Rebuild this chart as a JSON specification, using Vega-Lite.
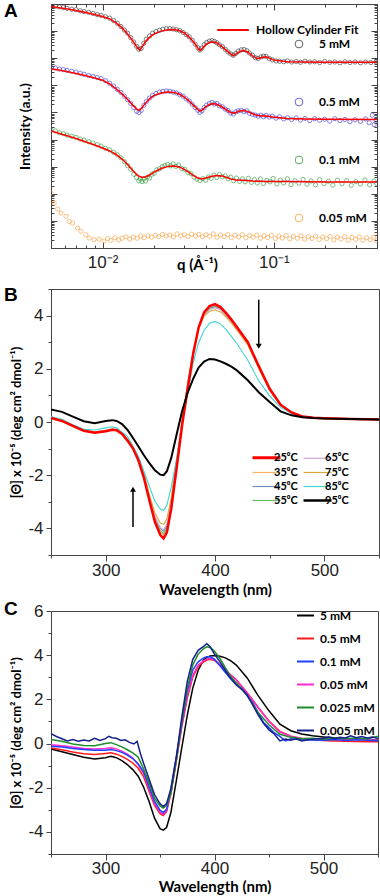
{
"$schema":"https://vega.github.io/schema/vega-lite/v6.json",
"padding":{"left":3,"top":1,"right":2,"bottom":2},
"bounds":"flush",
"spacing":41,
"resolve":{"scale":{"color":"independent","stroke":"independent","shape":"independent"},"legend":{"color":"independent","stroke":"independent"}},
"config":{
 "view":{"stroke":"#444","strokeWidth":1},
 "axis":{"grid":false,"domainColor":"#444","tickColor":"#444","labelFont":"Liberation Sans","labelColor":"#222","titleFont":"Lato","titleFontWeight":"bold","titleColor":"#000","labelOverlap":false},
 "legend":{"labelFont":"Lato","labelFontWeight":"bold","labelColor":"#000"},
 "title":{"font":"Liberation Sans","fontWeight":"bold","fontSize":19,"anchor":"start","frame":"group","color":"#000"}
},
"datasets":{
"Acirc":[
{"q":0.005,"v":8.95,"s":"5 mM"},{"q":0.0053,"v":8.92,"s":"5 mM"},{"q":0.0056,"v":8.89,"s":"5 mM"},{"q":0.0059,"v":8.87,"s":"5 mM"},{"q":0.0062,"v":8.84,"s":"5 mM"},{"q":0.0066,"v":8.81,"s":"5 mM"},{"q":0.007,"v":8.79,"s":"5 mM"},{"q":0.0074,"v":8.75,"s":"5 mM"},{"q":0.0078,"v":8.72,"s":"5 mM"},{"q":0.0083,"v":8.69,"s":"5 mM"},{"q":0.0088,"v":8.65,"s":"5 mM"},{"q":0.0093,"v":8.61,"s":"5 mM"},{"q":0.0098,"v":8.58,"s":"5 mM"},{"q":0.0104,"v":8.53,"s":"5 mM"},{"q":0.011,"v":8.48,"s":"5 mM"},{"q":0.0116,"v":8.39,"s":"5 mM"},{"q":0.0122,"v":8.29,"s":"5 mM"},{"q":0.0128,"v":8.17,"s":"5 mM"},{"q":0.0134,"v":8.04,"s":"5 mM"},{"q":0.014,"v":7.92,"s":"5 mM"},{"q":0.0146,"v":7.76,"s":"5 mM"},{"q":0.0152,"v":7.6,"s":"5 mM"},{"q":0.0158,"v":7.44,"s":"5 mM"},{"q":0.0163,"v":7.33,"s":"5 mM"},{"q":0.0168,"v":7.36,"s":"5 mM"},{"q":0.0174,"v":7.55,"s":"5 mM"},{"q":0.018,"v":7.7,"s":"5 mM"},{"q":0.0188,"v":7.82,"s":"5 mM"},{"q":0.0196,"v":7.92,"s":"5 mM"},{"q":0.0205,"v":7.98,"s":"5 mM"},{"q":0.0215,"v":8.03,"s":"5 mM"},{"q":0.0225,"v":8.07,"s":"5 mM"},{"q":0.0236,"v":8.09,"s":"5 mM"},{"q":0.0247,"v":8.09,"s":"5 mM"},{"q":0.0258,"v":8.08,"s":"5 mM"},{"q":0.027,"v":8.05,"s":"5 mM"},{"q":0.0282,"v":8.02,"s":"5 mM"},{"q":0.0295,"v":7.95,"s":"5 mM"},{"q":0.0308,"v":7.87,"s":"5 mM"},{"q":0.0321,"v":7.79,"s":"5 mM"},{"q":0.0334,"v":7.66,"s":"5 mM"},{"q":0.0347,"v":7.52,"s":"5 mM"},{"q":0.036,"v":7.39,"s":"5 mM"},{"q":0.037,"v":7.3,"s":"5 mM"},{"q":0.038,"v":7.37,"s":"5 mM"},{"q":0.0392,"v":7.5,"s":"5 mM"},{"q":0.0405,"v":7.58,"s":"5 mM"},{"q":0.042,"v":7.63,"s":"5 mM"},{"q":0.0435,"v":7.65,"s":"5 mM"},{"q":0.045,"v":7.62,"s":"5 mM"},{"q":0.0465,"v":7.57,"s":"5 mM"},{"q":0.048,"v":7.5,"s":"5 mM"},{"q":0.05,"v":7.43,"s":"5 mM"},{"q":0.052,"v":7.33,"s":"5 mM"},{"q":0.054,"v":7.23,"s":"5 mM"},{"q":0.056,"v":7.16,"s":"5 mM"},{"q":0.058,"v":7.11,"s":"5 mM"},{"q":0.06,"v":7.18,"s":"5 mM"},{"q":0.062,"v":7.26,"s":"5 mM"},{"q":0.0645,"v":7.31,"s":"5 mM"},{"q":0.067,"v":7.32,"s":"5 mM"},{"q":0.0695,"v":7.28,"s":"5 mM"},{"q":0.072,"v":7.19,"s":"5 mM"},{"q":0.075,"v":7.11,"s":"5 mM"},{"q":0.078,"v":7.02,"s":"5 mM"},{"q":0.081,"v":6.99,"s":"5 mM"},{"q":0.084,"v":7.05,"s":"5 mM"},{"q":0.087,"v":7.08,"s":"5 mM"},{"q":0.09,"v":7.07,"s":"5 mM"},{"q":0.094,"v":6.99,"s":"5 mM"},{"q":0.098,"v":6.94,"s":"5 mM"},{"q":0.103,"v":6.9,"s":"5 mM"},{"q":0.108,"v":6.89,"s":"5 mM"},{"q":0.114,"v":6.87,"s":"5 mM"},{"q":0.12,"v":6.9,"s":"5 mM"},{"q":0.127,"v":6.86,"s":"5 mM"},{"q":0.135,"v":6.88,"s":"5 mM"},{"q":0.143,"v":6.85,"s":"5 mM"},{"q":0.152,"v":6.89,"s":"5 mM"},{"q":0.162,"v":6.86,"s":"5 mM"},{"q":0.173,"v":6.87,"s":"5 mM"},{"q":0.185,"v":6.84,"s":"5 mM"},{"q":0.198,"v":6.88,"s":"5 mM"},{"q":0.212,"v":6.85,"s":"5 mM"},{"q":0.227,"v":6.86,"s":"5 mM"},{"q":0.243,"v":6.83,"s":"5 mM"},{"q":0.26,"v":6.87,"s":"5 mM"},{"q":0.278,"v":6.84,"s":"5 mM"},{"q":0.298,"v":6.86,"s":"5 mM"},{"q":0.32,"v":6.83,"s":"5 mM"},{"q":0.343,"v":6.86,"s":"5 mM"},{"q":0.368,"v":6.84,"s":"5 mM"},{"q":0.395,"v":6.86,"s":"5 mM"},
{"q":0.005,"v":6.66,"s":"0.5 mM"},{"q":0.0053,"v":6.64,"s":"0.5 mM"},{"q":0.0056,"v":6.6,"s":"0.5 mM"},{"q":0.0059,"v":6.58,"s":"0.5 mM"},{"q":0.0062,"v":6.55,"s":"0.5 mM"},{"q":0.0066,"v":6.52,"s":"0.5 mM"},{"q":0.007,"v":6.49,"s":"0.5 mM"},{"q":0.0074,"v":6.45,"s":"0.5 mM"},{"q":0.0078,"v":6.41,"s":"0.5 mM"},{"q":0.0083,"v":6.36,"s":"0.5 mM"},{"q":0.0088,"v":6.33,"s":"0.5 mM"},{"q":0.0093,"v":6.29,"s":"0.5 mM"},{"q":0.0098,"v":6.25,"s":"0.5 mM"},{"q":0.0104,"v":6.17,"s":"0.5 mM"},{"q":0.011,"v":6.08,"s":"0.5 mM"},{"q":0.0116,"v":5.97,"s":"0.5 mM"},{"q":0.0122,"v":5.85,"s":"0.5 mM"},{"q":0.0128,"v":5.74,"s":"0.5 mM"},{"q":0.0134,"v":5.6,"s":"0.5 mM"},{"q":0.014,"v":5.47,"s":"0.5 mM"},{"q":0.0146,"v":5.33,"s":"0.5 mM"},{"q":0.0152,"v":5.18,"s":"0.5 mM"},{"q":0.0158,"v":5.04,"s":"0.5 mM"},{"q":0.0163,"v":5.0,"s":"0.5 mM"},{"q":0.0168,"v":5.08,"s":"0.5 mM"},{"q":0.0174,"v":5.26,"s":"0.5 mM"},{"q":0.018,"v":5.4,"s":"0.5 mM"},{"q":0.0188,"v":5.53,"s":"0.5 mM"},{"q":0.0196,"v":5.63,"s":"0.5 mM"},{"q":0.0205,"v":5.7,"s":"0.5 mM"},{"q":0.0215,"v":5.75,"s":"0.5 mM"},{"q":0.0225,"v":5.78,"s":"0.5 mM"},{"q":0.0236,"v":5.79,"s":"0.5 mM"},{"q":0.0247,"v":5.78,"s":"0.5 mM"},{"q":0.0258,"v":5.75,"s":"0.5 mM"},{"q":0.027,"v":5.72,"s":"0.5 mM"},{"q":0.0282,"v":5.66,"s":"0.5 mM"},{"q":0.0295,"v":5.6,"s":"0.5 mM"},{"q":0.0308,"v":5.5,"s":"0.5 mM"},{"q":0.0321,"v":5.42,"s":"0.5 mM"},{"q":0.0334,"v":5.3,"s":"0.5 mM"},{"q":0.0347,"v":5.18,"s":"0.5 mM"},{"q":0.036,"v":5.08,"s":"0.5 mM"},{"q":0.037,"v":5.0,"s":"0.5 mM"},{"q":0.038,"v":5.06,"s":"0.5 mM"},{"q":0.0392,"v":5.18,"s":"0.5 mM"},{"q":0.0405,"v":5.27,"s":"0.5 mM"},{"q":0.042,"v":5.33,"s":"0.5 mM"},{"q":0.0435,"v":5.37,"s":"0.5 mM"},{"q":0.045,"v":5.31,"s":"0.5 mM"},{"q":0.0465,"v":5.33,"s":"0.5 mM"},{"q":0.048,"v":5.25,"s":"0.5 mM"},{"q":0.05,"v":5.21,"s":"0.5 mM"},{"q":0.052,"v":5.12,"s":"0.5 mM"},{"q":0.054,"v":5.07,"s":"0.5 mM"},{"q":0.056,"v":4.98,"s":"0.5 mM"},{"q":0.058,"v":4.94,"s":"0.5 mM"},{"q":0.06,"v":5.02,"s":"0.5 mM"},{"q":0.062,"v":5.06,"s":"0.5 mM"},{"q":0.0645,"v":5.08,"s":"0.5 mM"},{"q":0.067,"v":5.03,"s":"0.5 mM"},{"q":0.0695,"v":5.06,"s":"0.5 mM"},{"q":0.072,"v":4.97,"s":"0.5 mM"},{"q":0.075,"v":4.93,"s":"0.5 mM"},{"q":0.078,"v":4.9,"s":"0.5 mM"},{"q":0.081,"v":4.86,"s":"0.5 mM"},{"q":0.084,"v":4.9,"s":"0.5 mM"},{"q":0.087,"v":4.84,"s":"0.5 mM"},{"q":0.09,"v":4.89,"s":"0.5 mM"},{"q":0.094,"v":4.83,"s":"0.5 mM"},{"q":0.098,"v":4.86,"s":"0.5 mM"},{"q":0.103,"v":4.79,"s":"0.5 mM"},{"q":0.108,"v":4.84,"s":"0.5 mM"},{"q":0.114,"v":4.76,"s":"0.5 mM"},{"q":0.12,"v":4.81,"s":"0.5 mM"},{"q":0.127,"v":4.74,"s":"0.5 mM"},{"q":0.135,"v":4.8,"s":"0.5 mM"},{"q":0.143,"v":4.72,"s":"0.5 mM"},{"q":0.152,"v":4.78,"s":"0.5 mM"},{"q":0.162,"v":4.7,"s":"0.5 mM"},{"q":0.173,"v":4.77,"s":"0.5 mM"},{"q":0.185,"v":4.71,"s":"0.5 mM"},{"q":0.198,"v":4.75,"s":"0.5 mM"},{"q":0.212,"v":4.68,"s":"0.5 mM"},{"q":0.227,"v":4.77,"s":"0.5 mM"},{"q":0.243,"v":4.7,"s":"0.5 mM"},{"q":0.26,"v":4.74,"s":"0.5 mM"},{"q":0.278,"v":4.66,"s":"0.5 mM"},{"q":0.298,"v":4.73,"s":"0.5 mM"},{"q":0.32,"v":4.67,"s":"0.5 mM"},{"q":0.343,"v":4.76,"s":"0.5 mM"},{"q":0.36,"v":4.62,"s":"0.5 mM"},{"q":0.375,"v":4.9,"s":"0.5 mM"},{"q":0.385,"v":4.55,"s":"0.5 mM"},{"q":0.395,"v":4.72,"s":"0.5 mM"},
{"q":0.005,"v":4.36,"s":"0.1 mM"},{"q":0.0053,"v":4.32,"s":"0.1 mM"},{"q":0.0056,"v":4.25,"s":"0.1 mM"},{"q":0.0059,"v":4.22,"s":"0.1 mM"},{"q":0.0062,"v":4.16,"s":"0.1 mM"},{"q":0.0066,"v":4.12,"s":"0.1 mM"},{"q":0.007,"v":4.08,"s":"0.1 mM"},{"q":0.0074,"v":4.02,"s":"0.1 mM"},{"q":0.0078,"v":3.98,"s":"0.1 mM"},{"q":0.0083,"v":3.92,"s":"0.1 mM"},{"q":0.0088,"v":3.87,"s":"0.1 mM"},{"q":0.0093,"v":3.81,"s":"0.1 mM"},{"q":0.0098,"v":3.76,"s":"0.1 mM"},{"q":0.0104,"v":3.68,"s":"0.1 mM"},{"q":0.011,"v":3.62,"s":"0.1 mM"},{"q":0.0116,"v":3.53,"s":"0.1 mM"},{"q":0.0122,"v":3.44,"s":"0.1 mM"},{"q":0.0128,"v":3.33,"s":"0.1 mM"},{"q":0.0134,"v":3.18,"s":"0.1 mM"},{"q":0.014,"v":3.04,"s":"0.1 mM"},{"q":0.0146,"v":2.9,"s":"0.1 mM"},{"q":0.0152,"v":2.72,"s":"0.1 mM"},{"q":0.0158,"v":2.6,"s":"0.1 mM"},{"q":0.0163,"v":2.48,"s":"0.1 mM"},{"q":0.0166,"v":2.56,"s":"0.1 mM"},{"q":0.017,"v":2.45,"s":"0.1 mM"},{"q":0.0174,"v":2.55,"s":"0.1 mM"},{"q":0.0178,"v":2.47,"s":"0.1 mM"},{"q":0.0183,"v":2.62,"s":"0.1 mM"},{"q":0.0188,"v":2.58,"s":"0.1 mM"},{"q":0.0194,"v":2.72,"s":"0.1 mM"},{"q":0.02,"v":2.76,"s":"0.1 mM"},{"q":0.0207,"v":2.88,"s":"0.1 mM"},{"q":0.0215,"v":2.92,"s":"0.1 mM"},{"q":0.0223,"v":3.0,"s":"0.1 mM"},{"q":0.0231,"v":3.04,"s":"0.1 mM"},{"q":0.024,"v":3.08,"s":"0.1 mM"},{"q":0.0249,"v":3.03,"s":"0.1 mM"},{"q":0.0258,"v":3.1,"s":"0.1 mM"},{"q":0.0268,"v":3.01,"s":"0.1 mM"},{"q":0.0278,"v":3.06,"s":"0.1 mM"},{"q":0.029,"v":2.93,"s":"0.1 mM"},{"q":0.0302,"v":2.9,"s":"0.1 mM"},{"q":0.0315,"v":2.78,"s":"0.1 mM"},{"q":0.0328,"v":2.74,"s":"0.1 mM"},{"q":0.0342,"v":2.61,"s":"0.1 mM"},{"q":0.0356,"v":2.54,"s":"0.1 mM"},{"q":0.037,"v":2.49,"s":"0.1 mM"},{"q":0.0385,"v":2.56,"s":"0.1 mM"},{"q":0.04,"v":2.5,"s":"0.1 mM"},{"q":0.0415,"v":2.62,"s":"0.1 mM"},{"q":0.043,"v":2.57,"s":"0.1 mM"},{"q":0.0447,"v":2.69,"s":"0.1 mM"},{"q":0.0464,"v":2.6,"s":"0.1 mM"},{"q":0.0482,"v":2.71,"s":"0.1 mM"},{"q":0.05,"v":2.62,"s":"0.1 mM"},{"q":0.052,"v":2.66,"s":"0.1 mM"},{"q":0.054,"v":2.55,"s":"0.1 mM"},{"q":0.056,"v":2.61,"s":"0.1 mM"},{"q":0.0582,"v":2.48,"s":"0.1 mM"},{"q":0.0605,"v":2.58,"s":"0.1 mM"},{"q":0.063,"v":2.46,"s":"0.1 mM"},{"q":0.0655,"v":2.55,"s":"0.1 mM"},{"q":0.068,"v":2.44,"s":"0.1 mM"},{"q":0.071,"v":2.57,"s":"0.1 mM"},{"q":0.074,"v":2.42,"s":"0.1 mM"},{"q":0.077,"v":2.52,"s":"0.1 mM"},{"q":0.08,"v":2.4,"s":"0.1 mM"},{"q":0.0835,"v":2.55,"s":"0.1 mM"},{"q":0.087,"v":2.38,"s":"0.1 mM"},{"q":0.091,"v":2.5,"s":"0.1 mM"},{"q":0.095,"v":2.44,"s":"0.1 mM"},{"q":0.099,"v":2.56,"s":"0.1 mM"},{"q":0.104,"v":2.36,"s":"0.1 mM"},{"q":0.109,"v":2.5,"s":"0.1 mM"},{"q":0.114,"v":2.4,"s":"0.1 mM"},{"q":0.12,"v":2.55,"s":"0.1 mM"},{"q":0.126,"v":2.34,"s":"0.1 mM"},{"q":0.133,"v":2.48,"s":"0.1 mM"},{"q":0.14,"v":2.39,"s":"0.1 mM"},{"q":0.148,"v":2.53,"s":"0.1 mM"},{"q":0.156,"v":2.35,"s":"0.1 mM"},{"q":0.165,"v":2.47,"s":"0.1 mM"},{"q":0.175,"v":2.33,"s":"0.1 mM"},{"q":0.185,"v":2.52,"s":"0.1 mM"},{"q":0.196,"v":2.38,"s":"0.1 mM"},{"q":0.208,"v":2.46,"s":"0.1 mM"},{"q":0.221,"v":2.32,"s":"0.1 mM"},{"q":0.235,"v":2.5,"s":"0.1 mM"},{"q":0.25,"v":2.37,"s":"0.1 mM"},{"q":0.266,"v":2.49,"s":"0.1 mM"},{"q":0.283,"v":2.31,"s":"0.1 mM"},{"q":0.301,"v":2.45,"s":"0.1 mM"},{"q":0.32,"v":2.36,"s":"0.1 mM"},{"q":0.34,"v":2.51,"s":"0.1 mM"},{"q":0.362,"v":2.33,"s":"0.1 mM"},{"q":0.385,"v":2.47,"s":"0.1 mM"},{"q":0.398,"v":2.38,"s":"0.1 mM"},
{"q":0.005,"v":2.03,"s":"0.05 mM"},{"q":0.00522,"v":1.66,"s":"0.05 mM"},{"q":0.00547,"v":1.44,"s":"0.05 mM"},{"q":0.00572,"v":1.29,"s":"0.05 mM"},{"q":0.00611,"v":1.17,"s":"0.05 mM"},{"q":0.00639,"v":0.98,"s":"0.05 mM"},{"q":0.00669,"v":0.92,"s":"0.05 mM"},{"q":0.00715,"v":0.74,"s":"0.05 mM"},{"q":0.00747,"v":0.62,"s":"0.05 mM"},{"q":0.00799,"v":0.49,"s":"0.05 mM"},{"q":0.00835,"v":0.37,"s":"0.05 mM"},{"q":0.00893,"v":0.31,"s":"0.05 mM"},{"q":0.00955,"v":0.33,"s":"0.05 mM"},{"q":0.0102,"v":0.26,"s":"0.05 mM"},{"q":0.0107,"v":0.35,"s":"0.05 mM"},{"q":0.0112,"v":0.28,"s":"0.05 mM"},{"q":0.0118,"v":0.38,"s":"0.05 mM"},{"q":0.0124,"v":0.3,"s":"0.05 mM"},{"q":0.013,"v":0.36,"s":"0.05 mM"},{"q":0.0137,"v":0.41,"s":"0.05 mM"},{"q":0.0144,"v":0.33,"s":"0.05 mM"},{"q":0.0151,"v":0.4,"s":"0.05 mM"},{"q":0.0159,"v":0.36,"s":"0.05 mM"},{"q":0.0167,"v":0.44,"s":"0.05 mM"},{"q":0.0175,"v":0.38,"s":"0.05 mM"},{"q":0.0184,"v":0.45,"s":"0.05 mM"},{"q":0.0193,"v":0.4,"s":"0.05 mM"},{"q":0.0203,"v":0.47,"s":"0.05 mM"},{"q":0.0213,"v":0.42,"s":"0.05 mM"},{"q":0.0224,"v":0.5,"s":"0.05 mM"},{"q":0.0235,"v":0.44,"s":"0.05 mM"},{"q":0.0247,"v":0.48,"s":"0.05 mM"},{"q":0.0259,"v":0.41,"s":"0.05 mM"},{"q":0.0272,"v":0.52,"s":"0.05 mM"},{"q":0.0286,"v":0.45,"s":"0.05 mM"},{"q":0.03,"v":0.49,"s":"0.05 mM"},{"q":0.0315,"v":0.42,"s":"0.05 mM"},{"q":0.0331,"v":0.51,"s":"0.05 mM"},{"q":0.0348,"v":0.44,"s":"0.05 mM"},{"q":0.0365,"v":0.5,"s":"0.05 mM"},{"q":0.0383,"v":0.41,"s":"0.05 mM"},{"q":0.0402,"v":0.49,"s":"0.05 mM"},{"q":0.0422,"v":0.43,"s":"0.05 mM"},{"q":0.0443,"v":0.52,"s":"0.05 mM"},{"q":0.0465,"v":0.4,"s":"0.05 mM"},{"q":0.0488,"v":0.48,"s":"0.05 mM"},{"q":0.0512,"v":0.42,"s":"0.05 mM"},{"q":0.0538,"v":0.5,"s":"0.05 mM"},{"q":0.0565,"v":0.39,"s":"0.05 mM"},{"q":0.0593,"v":0.47,"s":"0.05 mM"},{"q":0.0623,"v":0.41,"s":"0.05 mM"},{"q":0.0654,"v":0.49,"s":"0.05 mM"},{"q":0.0687,"v":0.38,"s":"0.05 mM"},{"q":0.0721,"v":0.46,"s":"0.05 mM"},{"q":0.0757,"v":0.4,"s":"0.05 mM"},{"q":0.0795,"v":0.48,"s":"0.05 mM"},{"q":0.0835,"v":0.36,"s":"0.05 mM"},{"q":0.0877,"v":0.45,"s":"0.05 mM"},{"q":0.0921,"v":0.39,"s":"0.05 mM"},{"q":0.0967,"v":0.47,"s":"0.05 mM"},{"q":0.102,"v":0.35,"s":"0.05 mM"},{"q":0.107,"v":0.44,"s":"0.05 mM"},{"q":0.112,"v":0.37,"s":"0.05 mM"},{"q":0.118,"v":0.46,"s":"0.05 mM"},{"q":0.124,"v":0.34,"s":"0.05 mM"},{"q":0.13,"v":0.43,"s":"0.05 mM"},{"q":0.137,"v":0.36,"s":"0.05 mM"},{"q":0.144,"v":0.45,"s":"0.05 mM"},{"q":0.151,"v":0.33,"s":"0.05 mM"},{"q":0.159,"v":0.42,"s":"0.05 mM"},{"q":0.167,"v":0.35,"s":"0.05 mM"},{"q":0.175,"v":0.44,"s":"0.05 mM"},{"q":0.184,"v":0.31,"s":"0.05 mM"},{"q":0.193,"v":0.41,"s":"0.05 mM"},{"q":0.203,"v":0.34,"s":"0.05 mM"},{"q":0.213,"v":0.43,"s":"0.05 mM"},{"q":0.224,"v":0.3,"s":"0.05 mM"},{"q":0.235,"v":0.4,"s":"0.05 mM"},{"q":0.247,"v":0.33,"s":"0.05 mM"},{"q":0.259,"v":0.42,"s":"0.05 mM"},{"q":0.272,"v":0.29,"s":"0.05 mM"},{"q":0.286,"v":0.39,"s":"0.05 mM"},{"q":0.3,"v":0.32,"s":"0.05 mM"},{"q":0.315,"v":0.41,"s":"0.05 mM"},{"q":0.331,"v":0.28,"s":"0.05 mM"},{"q":0.348,"v":0.38,"s":"0.05 mM"},{"q":0.365,"v":0.3,"s":"0.05 mM"},{"q":0.383,"v":0.4,"s":"0.05 mM"},{"q":0.398,"v":0.27,"s":"0.05 mM"}
],
"Afit":[
{"q":0.005,"v":8.91,"s":"5 mM","f":"Hollow Cylinder Fit"},{"q":0.006,"v":8.83,"s":"5 mM","f":"Hollow Cylinder Fit"},{"q":0.007,"v":8.76,"s":"5 mM","f":"Hollow Cylinder Fit"},{"q":0.008,"v":8.69,"s":"5 mM","f":"Hollow Cylinder Fit"},{"q":0.009,"v":8.61,"s":"5 mM","f":"Hollow Cylinder Fit"},{"q":0.01,"v":8.54,"s":"5 mM","f":"Hollow Cylinder Fit"},{"q":0.011,"v":8.45,"s":"5 mM","f":"Hollow Cylinder Fit"},{"q":0.012,"v":8.3,"s":"5 mM","f":"Hollow Cylinder Fit"},{"q":0.013,"v":8.12,"s":"5 mM","f":"Hollow Cylinder Fit"},{"q":0.014,"v":7.89,"s":"5 mM","f":"Hollow Cylinder Fit"},{"q":0.015,"v":7.64,"s":"5 mM","f":"Hollow Cylinder Fit"},{"q":0.016,"v":7.38,"s":"5 mM","f":"Hollow Cylinder Fit"},{"q":0.0165,"v":7.3,"s":"5 mM","f":"Hollow Cylinder Fit"},{"q":0.017,"v":7.42,"s":"5 mM","f":"Hollow Cylinder Fit"},{"q":0.018,"v":7.65,"s":"5 mM","f":"Hollow Cylinder Fit"},{"q":0.019,"v":7.8,"s":"5 mM","f":"Hollow Cylinder Fit"},{"q":0.02,"v":7.9,"s":"5 mM","f":"Hollow Cylinder Fit"},{"q":0.022,"v":8.0,"s":"5 mM","f":"Hollow Cylinder Fit"},{"q":0.024,"v":8.05,"s":"5 mM","f":"Hollow Cylinder Fit"},{"q":0.026,"v":8.06,"s":"5 mM","f":"Hollow Cylinder Fit"},{"q":0.028,"v":8.02,"s":"5 mM","f":"Hollow Cylinder Fit"},{"q":0.03,"v":7.93,"s":"5 mM","f":"Hollow Cylinder Fit"},{"q":0.032,"v":7.78,"s":"5 mM","f":"Hollow Cylinder Fit"},{"q":0.034,"v":7.6,"s":"5 mM","f":"Hollow Cylinder Fit"},{"q":0.036,"v":7.38,"s":"5 mM","f":"Hollow Cylinder Fit"},{"q":0.037,"v":7.28,"s":"5 mM","f":"Hollow Cylinder Fit"},{"q":0.038,"v":7.34,"s":"5 mM","f":"Hollow Cylinder Fit"},{"q":0.04,"v":7.5,"s":"5 mM","f":"Hollow Cylinder Fit"},{"q":0.043,"v":7.61,"s":"5 mM","f":"Hollow Cylinder Fit"},{"q":0.046,"v":7.58,"s":"5 mM","f":"Hollow Cylinder Fit"},{"q":0.05,"v":7.42,"s":"5 mM","f":"Hollow Cylinder Fit"},{"q":0.053,"v":7.28,"s":"5 mM","f":"Hollow Cylinder Fit"},{"q":0.056,"v":7.15,"s":"5 mM","f":"Hollow Cylinder Fit"},{"q":0.058,"v":7.09,"s":"5 mM","f":"Hollow Cylinder Fit"},{"q":0.06,"v":7.15,"s":"5 mM","f":"Hollow Cylinder Fit"},{"q":0.063,"v":7.24,"s":"5 mM","f":"Hollow Cylinder Fit"},{"q":0.066,"v":7.28,"s":"5 mM","f":"Hollow Cylinder Fit"},{"q":0.07,"v":7.24,"s":"5 mM","f":"Hollow Cylinder Fit"},{"q":0.075,"v":7.09,"s":"5 mM","f":"Hollow Cylinder Fit"},{"q":0.08,"v":6.98,"s":"5 mM","f":"Hollow Cylinder Fit"},{"q":0.085,"v":7.03,"s":"5 mM","f":"Hollow Cylinder Fit"},{"q":0.09,"v":7.05,"s":"5 mM","f":"Hollow Cylinder Fit"},{"q":0.1,"v":6.93,"s":"5 mM","f":"Hollow Cylinder Fit"},{"q":0.12,"v":6.87,"s":"5 mM","f":"Hollow Cylinder Fit"},{"q":0.15,"v":6.86,"s":"5 mM","f":"Hollow Cylinder Fit"},{"q":0.2,"v":6.85,"s":"5 mM","f":"Hollow Cylinder Fit"},{"q":0.3,"v":6.85,"s":"5 mM","f":"Hollow Cylinder Fit"},{"q":0.4,"v":6.85,"s":"5 mM","f":"Hollow Cylinder Fit"},
{"q":0.005,"v":6.61,"s":"0.5 mM","f":"Hollow Cylinder Fit"},{"q":0.006,"v":6.53,"s":"0.5 mM","f":"Hollow Cylinder Fit"},{"q":0.007,"v":6.44,"s":"0.5 mM","f":"Hollow Cylinder Fit"},{"q":0.008,"v":6.35,"s":"0.5 mM","f":"Hollow Cylinder Fit"},{"q":0.009,"v":6.27,"s":"0.5 mM","f":"Hollow Cylinder Fit"},{"q":0.01,"v":6.19,"s":"0.5 mM","f":"Hollow Cylinder Fit"},{"q":0.011,"v":6.05,"s":"0.5 mM","f":"Hollow Cylinder Fit"},{"q":0.012,"v":5.87,"s":"0.5 mM","f":"Hollow Cylinder Fit"},{"q":0.013,"v":5.68,"s":"0.5 mM","f":"Hollow Cylinder Fit"},{"q":0.014,"v":5.48,"s":"0.5 mM","f":"Hollow Cylinder Fit"},{"q":0.015,"v":5.27,"s":"0.5 mM","f":"Hollow Cylinder Fit"},{"q":0.016,"v":5.1,"s":"0.5 mM","f":"Hollow Cylinder Fit"},{"q":0.0165,"v":5.08,"s":"0.5 mM","f":"Hollow Cylinder Fit"},{"q":0.017,"v":5.18,"s":"0.5 mM","f":"Hollow Cylinder Fit"},{"q":0.018,"v":5.38,"s":"0.5 mM","f":"Hollow Cylinder Fit"},{"q":0.019,"v":5.53,"s":"0.5 mM","f":"Hollow Cylinder Fit"},{"q":0.02,"v":5.63,"s":"0.5 mM","f":"Hollow Cylinder Fit"},{"q":0.022,"v":5.72,"s":"0.5 mM","f":"Hollow Cylinder Fit"},{"q":0.024,"v":5.75,"s":"0.5 mM","f":"Hollow Cylinder Fit"},{"q":0.026,"v":5.74,"s":"0.5 mM","f":"Hollow Cylinder Fit"},{"q":0.028,"v":5.68,"s":"0.5 mM","f":"Hollow Cylinder Fit"},{"q":0.03,"v":5.57,"s":"0.5 mM","f":"Hollow Cylinder Fit"},{"q":0.032,"v":5.42,"s":"0.5 mM","f":"Hollow Cylinder Fit"},{"q":0.034,"v":5.26,"s":"0.5 mM","f":"Hollow Cylinder Fit"},{"q":0.036,"v":5.11,"s":"0.5 mM","f":"Hollow Cylinder Fit"},{"q":0.037,"v":5.05,"s":"0.5 mM","f":"Hollow Cylinder Fit"},{"q":0.038,"v":5.08,"s":"0.5 mM","f":"Hollow Cylinder Fit"},{"q":0.04,"v":5.21,"s":"0.5 mM","f":"Hollow Cylinder Fit"},{"q":0.043,"v":5.32,"s":"0.5 mM","f":"Hollow Cylinder Fit"},{"q":0.046,"v":5.31,"s":"0.5 mM","f":"Hollow Cylinder Fit"},{"q":0.05,"v":5.2,"s":"0.5 mM","f":"Hollow Cylinder Fit"},{"q":0.053,"v":5.09,"s":"0.5 mM","f":"Hollow Cylinder Fit"},{"q":0.056,"v":5.0,"s":"0.5 mM","f":"Hollow Cylinder Fit"},{"q":0.058,"v":4.97,"s":"0.5 mM","f":"Hollow Cylinder Fit"},{"q":0.06,"v":5.0,"s":"0.5 mM","f":"Hollow Cylinder Fit"},{"q":0.063,"v":5.05,"s":"0.5 mM","f":"Hollow Cylinder Fit"},{"q":0.066,"v":5.07,"s":"0.5 mM","f":"Hollow Cylinder Fit"},{"q":0.07,"v":5.04,"s":"0.5 mM","f":"Hollow Cylinder Fit"},{"q":0.075,"v":4.95,"s":"0.5 mM","f":"Hollow Cylinder Fit"},{"q":0.08,"v":4.89,"s":"0.5 mM","f":"Hollow Cylinder Fit"},{"q":0.09,"v":4.87,"s":"0.5 mM","f":"Hollow Cylinder Fit"},{"q":0.1,"v":4.82,"s":"0.5 mM","f":"Hollow Cylinder Fit"},{"q":0.12,"v":4.78,"s":"0.5 mM","f":"Hollow Cylinder Fit"},{"q":0.15,"v":4.76,"s":"0.5 mM","f":"Hollow Cylinder Fit"},{"q":0.2,"v":4.75,"s":"0.5 mM","f":"Hollow Cylinder Fit"},{"q":0.4,"v":4.74,"s":"0.5 mM","f":"Hollow Cylinder Fit"},
{"q":0.005,"v":4.32,"s":"0.1 mM","f":"Hollow Cylinder Fit"},{"q":0.006,"v":4.17,"s":"0.1 mM","f":"Hollow Cylinder Fit"},{"q":0.007,"v":4.04,"s":"0.1 mM","f":"Hollow Cylinder Fit"},{"q":0.008,"v":3.91,"s":"0.1 mM","f":"Hollow Cylinder Fit"},{"q":0.009,"v":3.8,"s":"0.1 mM","f":"Hollow Cylinder Fit"},{"q":0.01,"v":3.69,"s":"0.1 mM","f":"Hollow Cylinder Fit"},{"q":0.011,"v":3.58,"s":"0.1 mM","f":"Hollow Cylinder Fit"},{"q":0.012,"v":3.45,"s":"0.1 mM","f":"Hollow Cylinder Fit"},{"q":0.013,"v":3.28,"s":"0.1 mM","f":"Hollow Cylinder Fit"},{"q":0.014,"v":3.08,"s":"0.1 mM","f":"Hollow Cylinder Fit"},{"q":0.015,"v":2.86,"s":"0.1 mM","f":"Hollow Cylinder Fit"},{"q":0.016,"v":2.68,"s":"0.1 mM","f":"Hollow Cylinder Fit"},{"q":0.017,"v":2.6,"s":"0.1 mM","f":"Hollow Cylinder Fit"},{"q":0.018,"v":2.63,"s":"0.1 mM","f":"Hollow Cylinder Fit"},{"q":0.019,"v":2.71,"s":"0.1 mM","f":"Hollow Cylinder Fit"},{"q":0.02,"v":2.8,"s":"0.1 mM","f":"Hollow Cylinder Fit"},{"q":0.022,"v":2.93,"s":"0.1 mM","f":"Hollow Cylinder Fit"},{"q":0.024,"v":3.01,"s":"0.1 mM","f":"Hollow Cylinder Fit"},{"q":0.026,"v":3.02,"s":"0.1 mM","f":"Hollow Cylinder Fit"},{"q":0.028,"v":2.99,"s":"0.1 mM","f":"Hollow Cylinder Fit"},{"q":0.03,"v":2.9,"s":"0.1 mM","f":"Hollow Cylinder Fit"},{"q":0.032,"v":2.79,"s":"0.1 mM","f":"Hollow Cylinder Fit"},{"q":0.034,"v":2.67,"s":"0.1 mM","f":"Hollow Cylinder Fit"},{"q":0.036,"v":2.58,"s":"0.1 mM","f":"Hollow Cylinder Fit"},{"q":0.038,"v":2.55,"s":"0.1 mM","f":"Hollow Cylinder Fit"},{"q":0.04,"v":2.58,"s":"0.1 mM","f":"Hollow Cylinder Fit"},{"q":0.043,"v":2.64,"s":"0.1 mM","f":"Hollow Cylinder Fit"},{"q":0.046,"v":2.67,"s":"0.1 mM","f":"Hollow Cylinder Fit"},{"q":0.05,"v":2.66,"s":"0.1 mM","f":"Hollow Cylinder Fit"},{"q":0.053,"v":2.6,"s":"0.1 mM","f":"Hollow Cylinder Fit"},{"q":0.056,"v":2.55,"s":"0.1 mM","f":"Hollow Cylinder Fit"},{"q":0.06,"v":2.51,"s":"0.1 mM","f":"Hollow Cylinder Fit"},{"q":0.066,"v":2.5,"s":"0.1 mM","f":"Hollow Cylinder Fit"},{"q":0.075,"v":2.47,"s":"0.1 mM","f":"Hollow Cylinder Fit"},{"q":0.09,"v":2.45,"s":"0.1 mM","f":"Hollow Cylinder Fit"},{"q":0.12,"v":2.45,"s":"0.1 mM","f":"Hollow Cylinder Fit"},{"q":0.2,"v":2.43,"s":"0.1 mM","f":"Hollow Cylinder Fit"},{"q":0.4,"v":2.43,"s":"0.1 mM","f":"Hollow Cylinder Fit"}
],
"B":[
{"w":250,"v":0.14,"t":"35⁰C"},{"w":260,"v":0.03,"t":"35⁰C"},{"w":270,"v":-0.16,"t":"35⁰C"},{"w":280,"v":-0.34,"t":"35⁰C"},{"w":290,"v":-0.41,"t":"35⁰C"},{"w":300,"v":-0.36,"t":"35⁰C"},{"w":306,"v":-0.3,"t":"35⁰C"},{"w":310,"v":-0.32,"t":"35⁰C"},{"w":315,"v":-0.46,"t":"35⁰C"},{"w":320,"v":-0.7,"t":"35⁰C"},{"w":325,"v":-0.98,"t":"35⁰C"},{"w":330,"v":-1.42,"t":"35⁰C"},{"w":335,"v":-2.05,"t":"35⁰C"},{"w":340,"v":-2.88,"t":"35⁰C"},{"w":345,"v":-3.65,"t":"35⁰C"},{"w":350,"v":-4.13,"t":"35⁰C"},{"w":353,"v":-4.25,"t":"35⁰C"},{"w":356,"v":-4.03,"t":"35⁰C"},{"w":360,"v":-3.12,"t":"35⁰C"},{"w":365,"v":-1.58,"t":"35⁰C"},{"w":370,"v":0.0,"t":"35⁰C"},{"w":375,"v":1.35,"t":"35⁰C"},{"w":380,"v":2.6,"t":"35⁰C"},{"w":385,"v":3.55,"t":"35⁰C"},{"w":390,"v":4.08,"t":"35⁰C"},{"w":395,"v":4.3,"t":"35⁰C"},{"w":400,"v":4.38,"t":"35⁰C"},{"w":405,"v":4.28,"t":"35⁰C"},{"w":410,"v":4.06,"t":"35⁰C"},{"w":415,"v":3.82,"t":"35⁰C"},{"w":420,"v":3.54,"t":"35⁰C"},{"w":430,"v":2.97,"t":"35⁰C"},{"w":440,"v":2.08,"t":"35⁰C"},{"w":450,"v":1.24,"t":"35⁰C"},{"w":460,"v":0.64,"t":"35⁰C"},{"w":470,"v":0.35,"t":"35⁰C"},{"w":480,"v":0.21,"t":"35⁰C"},{"w":490,"v":0.16,"t":"35⁰C"},{"w":500,"v":0.14,"t":"35⁰C"},{"w":525,"v":0.11,"t":"35⁰C"},{"w":550,"v":0.09,"t":"35⁰C"},
{"w":250,"v":0.16,"t":"45⁰C"},{"w":260,"v":0.05,"t":"45⁰C"},{"w":270,"v":-0.14,"t":"45⁰C"},{"w":280,"v":-0.31,"t":"45⁰C"},{"w":290,"v":-0.38,"t":"45⁰C"},{"w":300,"v":-0.33,"t":"45⁰C"},{"w":306,"v":-0.28,"t":"45⁰C"},{"w":310,"v":-0.3,"t":"45⁰C"},{"w":315,"v":-0.44,"t":"45⁰C"},{"w":320,"v":-0.68,"t":"45⁰C"},{"w":325,"v":-0.96,"t":"45⁰C"},{"w":330,"v":-1.4,"t":"45⁰C"},{"w":335,"v":-2.02,"t":"45⁰C"},{"w":340,"v":-2.82,"t":"45⁰C"},{"w":345,"v":-3.56,"t":"45⁰C"},{"w":350,"v":-4.0,"t":"45⁰C"},{"w":353,"v":-4.1,"t":"45⁰C"},{"w":356,"v":-3.9,"t":"45⁰C"},{"w":360,"v":-3.0,"t":"45⁰C"},{"w":365,"v":-1.5,"t":"45⁰C"},{"w":370,"v":0.05,"t":"45⁰C"},{"w":375,"v":1.4,"t":"45⁰C"},{"w":380,"v":2.62,"t":"45⁰C"},{"w":385,"v":3.55,"t":"45⁰C"},{"w":390,"v":4.06,"t":"45⁰C"},{"w":395,"v":4.28,"t":"45⁰C"},{"w":400,"v":4.35,"t":"45⁰C"},{"w":405,"v":4.26,"t":"45⁰C"},{"w":410,"v":4.04,"t":"45⁰C"},{"w":415,"v":3.8,"t":"45⁰C"},{"w":420,"v":3.52,"t":"45⁰C"},{"w":430,"v":2.95,"t":"45⁰C"},{"w":440,"v":2.06,"t":"45⁰C"},{"w":450,"v":1.22,"t":"45⁰C"},{"w":460,"v":0.63,"t":"45⁰C"},{"w":470,"v":0.35,"t":"45⁰C"},{"w":480,"v":0.21,"t":"45⁰C"},{"w":490,"v":0.16,"t":"45⁰C"},{"w":500,"v":0.14,"t":"45⁰C"},{"w":525,"v":0.11,"t":"45⁰C"},{"w":550,"v":0.09,"t":"45⁰C"},
{"w":250,"v":0.17,"t":"55⁰C"},{"w":260,"v":0.05,"t":"55⁰C"},{"w":270,"v":-0.13,"t":"55⁰C"},{"w":280,"v":-0.32,"t":"55⁰C"},{"w":290,"v":-0.39,"t":"55⁰C"},{"w":300,"v":-0.34,"t":"55⁰C"},{"w":306,"v":-0.29,"t":"55⁰C"},{"w":310,"v":-0.3,"t":"55⁰C"},{"w":315,"v":-0.44,"t":"55⁰C"},{"w":320,"v":-0.69,"t":"55⁰C"},{"w":325,"v":-0.97,"t":"55⁰C"},{"w":330,"v":-1.42,"t":"55⁰C"},{"w":335,"v":-2.05,"t":"55⁰C"},{"w":340,"v":-2.88,"t":"55⁰C"},{"w":345,"v":-3.64,"t":"55⁰C"},{"w":350,"v":-4.08,"t":"55⁰C"},{"w":353,"v":-4.2,"t":"55⁰C"},{"w":356,"v":-3.98,"t":"55⁰C"},{"w":360,"v":-3.08,"t":"55⁰C"},{"w":365,"v":-1.55,"t":"55⁰C"},{"w":370,"v":0.02,"t":"55⁰C"},{"w":375,"v":1.38,"t":"55⁰C"},{"w":380,"v":2.6,"t":"55⁰C"},{"w":385,"v":3.52,"t":"55⁰C"},{"w":390,"v":4.05,"t":"55⁰C"},{"w":395,"v":4.26,"t":"55⁰C"},{"w":400,"v":4.33,"t":"55⁰C"},{"w":405,"v":4.24,"t":"55⁰C"},{"w":410,"v":4.03,"t":"55⁰C"},{"w":415,"v":3.79,"t":"55⁰C"},{"w":420,"v":3.51,"t":"55⁰C"},{"w":430,"v":2.94,"t":"55⁰C"},{"w":440,"v":2.05,"t":"55⁰C"},{"w":450,"v":1.21,"t":"55⁰C"},{"w":460,"v":0.63,"t":"55⁰C"},{"w":470,"v":0.35,"t":"55⁰C"},{"w":480,"v":0.21,"t":"55⁰C"},{"w":490,"v":0.16,"t":"55⁰C"},{"w":500,"v":0.14,"t":"55⁰C"},{"w":525,"v":0.11,"t":"55⁰C"},{"w":550,"v":0.09,"t":"55⁰C"},
{"w":250,"v":0.16,"t":"65⁰C"},{"w":260,"v":0.06,"t":"65⁰C"},{"w":270,"v":-0.13,"t":"65⁰C"},{"w":280,"v":-0.3,"t":"65⁰C"},{"w":290,"v":-0.37,"t":"65⁰C"},{"w":300,"v":-0.32,"t":"65⁰C"},{"w":306,"v":-0.27,"t":"65⁰C"},{"w":310,"v":-0.29,"t":"65⁰C"},{"w":315,"v":-0.43,"t":"65⁰C"},{"w":320,"v":-0.67,"t":"65⁰C"},{"w":325,"v":-0.95,"t":"65⁰C"},{"w":330,"v":-1.38,"t":"65⁰C"},{"w":335,"v":-2.0,"t":"65⁰C"},{"w":340,"v":-2.8,"t":"65⁰C"},{"w":345,"v":-3.55,"t":"65⁰C"},{"w":350,"v":-3.98,"t":"65⁰C"},{"w":353,"v":-4.05,"t":"65⁰C"},{"w":356,"v":-3.84,"t":"65⁰C"},{"w":360,"v":-2.96,"t":"65⁰C"},{"w":365,"v":-1.46,"t":"65⁰C"},{"w":370,"v":0.08,"t":"65⁰C"},{"w":375,"v":1.42,"t":"65⁰C"},{"w":380,"v":2.62,"t":"65⁰C"},{"w":385,"v":3.52,"t":"65⁰C"},{"w":390,"v":4.03,"t":"65⁰C"},{"w":395,"v":4.23,"t":"65⁰C"},{"w":400,"v":4.3,"t":"65⁰C"},{"w":405,"v":4.22,"t":"65⁰C"},{"w":410,"v":4.01,"t":"65⁰C"},{"w":415,"v":3.77,"t":"65⁰C"},{"w":420,"v":3.5,"t":"65⁰C"},{"w":430,"v":2.93,"t":"65⁰C"},{"w":440,"v":2.05,"t":"65⁰C"},{"w":450,"v":1.21,"t":"65⁰C"},{"w":460,"v":0.63,"t":"65⁰C"},{"w":470,"v":0.35,"t":"65⁰C"},{"w":480,"v":0.21,"t":"65⁰C"},{"w":490,"v":0.16,"t":"65⁰C"},{"w":500,"v":0.14,"t":"65⁰C"},{"w":525,"v":0.11,"t":"65⁰C"},{"w":550,"v":0.09,"t":"65⁰C"},
{"w":250,"v":0.17,"t":"75⁰C"},{"w":260,"v":0.06,"t":"75⁰C"},{"w":270,"v":-0.12,"t":"75⁰C"},{"w":280,"v":-0.3,"t":"75⁰C"},{"w":290,"v":-0.37,"t":"75⁰C"},{"w":300,"v":-0.31,"t":"75⁰C"},{"w":306,"v":-0.26,"t":"75⁰C"},{"w":310,"v":-0.28,"t":"75⁰C"},{"w":315,"v":-0.42,"t":"75⁰C"},{"w":320,"v":-0.65,"t":"75⁰C"},{"w":325,"v":-0.93,"t":"75⁰C"},{"w":330,"v":-1.35,"t":"75⁰C"},{"w":335,"v":-1.94,"t":"75⁰C"},{"w":340,"v":-2.72,"t":"75⁰C"},{"w":345,"v":-3.42,"t":"75⁰C"},{"w":350,"v":-3.8,"t":"75⁰C"},{"w":353,"v":-3.85,"t":"75⁰C"},{"w":356,"v":-3.65,"t":"75⁰C"},{"w":360,"v":-2.82,"t":"75⁰C"},{"w":365,"v":-1.38,"t":"75⁰C"},{"w":370,"v":0.12,"t":"75⁰C"},{"w":375,"v":1.45,"t":"75⁰C"},{"w":380,"v":2.65,"t":"75⁰C"},{"w":385,"v":3.5,"t":"75⁰C"},{"w":390,"v":3.98,"t":"75⁰C"},{"w":395,"v":4.16,"t":"75⁰C"},{"w":400,"v":4.22,"t":"75⁰C"},{"w":405,"v":4.14,"t":"75⁰C"},{"w":410,"v":3.95,"t":"75⁰C"},{"w":415,"v":3.72,"t":"75⁰C"},{"w":420,"v":3.45,"t":"75⁰C"},{"w":430,"v":2.9,"t":"75⁰C"},{"w":440,"v":2.02,"t":"75⁰C"},{"w":450,"v":1.19,"t":"75⁰C"},{"w":460,"v":0.62,"t":"75⁰C"},{"w":470,"v":0.35,"t":"75⁰C"},{"w":480,"v":0.21,"t":"75⁰C"},{"w":490,"v":0.16,"t":"75⁰C"},{"w":500,"v":0.14,"t":"75⁰C"},{"w":525,"v":0.11,"t":"75⁰C"},{"w":550,"v":0.09,"t":"75⁰C"},
{"w":250,"v":0.21,"t":"85⁰C"},{"w":260,"v":0.1,"t":"85⁰C"},{"w":270,"v":-0.1,"t":"85⁰C"},{"w":280,"v":-0.27,"t":"85⁰C"},{"w":290,"v":-0.3,"t":"85⁰C"},{"w":300,"v":-0.22,"t":"85⁰C"},{"w":306,"v":-0.18,"t":"85⁰C"},{"w":310,"v":-0.22,"t":"85⁰C"},{"w":315,"v":-0.38,"t":"85⁰C"},{"w":320,"v":-0.55,"t":"85⁰C"},{"w":325,"v":-0.9,"t":"85⁰C"},{"w":330,"v":-1.3,"t":"85⁰C"},{"w":335,"v":-1.85,"t":"85⁰C"},{"w":340,"v":-2.42,"t":"85⁰C"},{"w":345,"v":-2.98,"t":"85⁰C"},{"w":350,"v":-3.27,"t":"85⁰C"},{"w":353,"v":-3.33,"t":"85⁰C"},{"w":356,"v":-3.12,"t":"85⁰C"},{"w":360,"v":-2.45,"t":"85⁰C"},{"w":365,"v":-1.35,"t":"85⁰C"},{"w":370,"v":-0.05,"t":"85⁰C"},{"w":375,"v":1.12,"t":"85⁰C"},{"w":380,"v":2.2,"t":"85⁰C"},{"w":385,"v":2.98,"t":"85⁰C"},{"w":390,"v":3.45,"t":"85⁰C"},{"w":395,"v":3.71,"t":"85⁰C"},{"w":400,"v":3.78,"t":"85⁰C"},{"w":405,"v":3.68,"t":"85⁰C"},{"w":410,"v":3.48,"t":"85⁰C"},{"w":415,"v":3.22,"t":"85⁰C"},{"w":420,"v":2.95,"t":"85⁰C"},{"w":430,"v":2.32,"t":"85⁰C"},{"w":440,"v":1.55,"t":"85⁰C"},{"w":450,"v":0.98,"t":"85⁰C"},{"w":460,"v":0.55,"t":"85⁰C"},{"w":470,"v":0.32,"t":"85⁰C"},{"w":480,"v":0.21,"t":"85⁰C"},{"w":490,"v":0.16,"t":"85⁰C"},{"w":500,"v":0.14,"t":"85⁰C"},{"w":525,"v":0.11,"t":"85⁰C"},{"w":550,"v":0.09,"t":"85⁰C"},
{"w":250,"v":0.15,"t":"25⁰C"},{"w":260,"v":0.04,"t":"25⁰C"},{"w":270,"v":-0.15,"t":"25⁰C"},{"w":280,"v":-0.33,"t":"25⁰C"},{"w":290,"v":-0.4,"t":"25⁰C"},{"w":300,"v":-0.35,"t":"25⁰C"},{"w":306,"v":-0.29,"t":"25⁰C"},{"w":310,"v":-0.31,"t":"25⁰C"},{"w":315,"v":-0.45,"t":"25⁰C"},{"w":320,"v":-0.7,"t":"25⁰C"},{"w":325,"v":-1.0,"t":"25⁰C"},{"w":330,"v":-1.45,"t":"25⁰C"},{"w":335,"v":-2.1,"t":"25⁰C"},{"w":340,"v":-2.95,"t":"25⁰C"},{"w":345,"v":-3.75,"t":"25⁰C"},{"w":350,"v":-4.25,"t":"25⁰C"},{"w":353,"v":-4.38,"t":"25⁰C"},{"w":356,"v":-4.15,"t":"25⁰C"},{"w":360,"v":-3.25,"t":"25⁰C"},{"w":365,"v":-1.7,"t":"25⁰C"},{"w":370,"v":-0.1,"t":"25⁰C"},{"w":375,"v":1.25,"t":"25⁰C"},{"w":380,"v":2.55,"t":"25⁰C"},{"w":385,"v":3.55,"t":"25⁰C"},{"w":390,"v":4.12,"t":"25⁰C"},{"w":395,"v":4.36,"t":"25⁰C"},{"w":400,"v":4.43,"t":"25⁰C"},{"w":405,"v":4.32,"t":"25⁰C"},{"w":410,"v":4.1,"t":"25⁰C"},{"w":415,"v":3.85,"t":"25⁰C"},{"w":420,"v":3.57,"t":"25⁰C"},{"w":430,"v":3.0,"t":"25⁰C"},{"w":440,"v":2.1,"t":"25⁰C"},{"w":450,"v":1.25,"t":"25⁰C"},{"w":460,"v":0.65,"t":"25⁰C"},{"w":470,"v":0.36,"t":"25⁰C"},{"w":480,"v":0.21,"t":"25⁰C"},{"w":490,"v":0.16,"t":"25⁰C"},{"w":500,"v":0.14,"t":"25⁰C"},{"w":525,"v":0.11,"t":"25⁰C"},{"w":550,"v":0.09,"t":"25⁰C"},
{"w":250,"v":0.47,"t":"95⁰C"},{"w":260,"v":0.38,"t":"95⁰C"},{"w":270,"v":0.2,"t":"95⁰C"},{"w":280,"v":0.03,"t":"95⁰C"},{"w":290,"v":-0.05,"t":"95⁰C"},{"w":300,"v":0.04,"t":"95⁰C"},{"w":306,"v":0.07,"t":"95⁰C"},{"w":310,"v":0.04,"t":"95⁰C"},{"w":315,"v":-0.08,"t":"95⁰C"},{"w":320,"v":-0.3,"t":"95⁰C"},{"w":325,"v":-0.6,"t":"95⁰C"},{"w":330,"v":-0.92,"t":"95⁰C"},{"w":335,"v":-1.25,"t":"95⁰C"},{"w":340,"v":-1.55,"t":"95⁰C"},{"w":345,"v":-1.82,"t":"95⁰C"},{"w":350,"v":-1.98,"t":"95⁰C"},{"w":353,"v":-2.0,"t":"95⁰C"},{"w":356,"v":-1.85,"t":"95⁰C"},{"w":360,"v":-1.35,"t":"95⁰C"},{"w":365,"v":-0.45,"t":"95⁰C"},{"w":370,"v":0.42,"t":"95⁰C"},{"w":375,"v":1.1,"t":"95⁰C"},{"w":380,"v":1.62,"t":"95⁰C"},{"w":385,"v":2.05,"t":"95⁰C"},{"w":390,"v":2.27,"t":"95⁰C"},{"w":395,"v":2.37,"t":"95⁰C"},{"w":400,"v":2.35,"t":"95⁰C"},{"w":405,"v":2.28,"t":"95⁰C"},{"w":410,"v":2.19,"t":"95⁰C"},{"w":415,"v":2.08,"t":"95⁰C"},{"w":420,"v":1.94,"t":"95⁰C"},{"w":430,"v":1.57,"t":"95⁰C"},{"w":440,"v":1.12,"t":"95⁰C"},{"w":450,"v":0.75,"t":"95⁰C"},{"w":460,"v":0.4,"t":"95⁰C"},{"w":470,"v":0.25,"t":"95⁰C"},{"w":480,"v":0.18,"t":"95⁰C"},{"w":490,"v":0.15,"t":"95⁰C"},{"w":500,"v":0.13,"t":"95⁰C"},{"w":525,"v":0.11,"t":"95⁰C"},{"w":550,"v":0.09,"t":"95⁰C"}
],
"Barrow":[{"w":440,"v":4.6,"v2":2.85,"dir":"down"},{"w":325,"v":-3.95,"v2":-2.53,"dir":"up"}],
"C":[
{"w":250,"v":-0.25,"s":"5 mM"},{"w":260,"v":-0.37,"s":"5 mM"},{"w":270,"v":-0.5,"s":"5 mM"},{"w":280,"v":-0.62,"s":"5 mM"},{"w":290,"v":-0.7,"s":"5 mM"},{"w":300,"v":-0.64,"s":"5 mM"},{"w":305,"v":-0.58,"s":"5 mM"},{"w":310,"v":-0.64,"s":"5 mM"},{"w":315,"v":-0.77,"s":"5 mM"},{"w":320,"v":-0.95,"s":"5 mM"},{"w":325,"v":-1.18,"s":"5 mM"},{"w":330,"v":-1.48,"s":"5 mM"},{"w":335,"v":-1.98,"s":"5 mM"},{"w":340,"v":-2.62,"s":"5 mM"},{"w":345,"v":-3.38,"s":"5 mM"},{"w":350,"v":-3.85,"s":"5 mM"},{"w":353,"v":-3.92,"s":"5 mM"},{"w":356,"v":-3.8,"s":"5 mM"},{"w":360,"v":-3.12,"s":"5 mM"},{"w":365,"v":-1.68,"s":"5 mM"},{"w":370,"v":-0.18,"s":"5 mM"},{"w":375,"v":1.28,"s":"5 mM"},{"w":380,"v":2.5,"s":"5 mM"},{"w":385,"v":3.32,"s":"5 mM"},{"w":390,"v":3.78,"s":"5 mM"},{"w":393,"v":3.9,"s":"5 mM"},{"w":396,"v":3.96,"s":"5 mM"},{"w":400,"v":3.98,"s":"5 mM"},{"w":405,"v":3.95,"s":"5 mM"},{"w":410,"v":3.88,"s":"5 mM"},{"w":415,"v":3.74,"s":"5 mM"},{"w":420,"v":3.55,"s":"5 mM"},{"w":430,"v":2.97,"s":"5 mM"},{"w":440,"v":2.17,"s":"5 mM"},{"w":450,"v":1.48,"s":"5 mM"},{"w":460,"v":0.88,"s":"5 mM"},{"w":470,"v":0.58,"s":"5 mM"},{"w":480,"v":0.43,"s":"5 mM"},{"w":490,"v":0.35,"s":"5 mM"},{"w":500,"v":0.3,"s":"5 mM"},{"w":510,"v":0.26,"s":"5 mM"},{"w":520,"v":0.23,"s":"5 mM"},{"w":530,"v":0.2,"s":"5 mM"},{"w":540,"v":0.17,"s":"5 mM"},{"w":550,"v":0.15,"s":"5 mM"},
{"w":250,"v":-0.2,"s":"0.5 mM"},{"w":260,"v":-0.28,"s":"0.5 mM"},{"w":270,"v":-0.38,"s":"0.5 mM"},{"w":280,"v":-0.46,"s":"0.5 mM"},{"w":290,"v":-0.5,"s":"0.5 mM"},{"w":300,"v":-0.45,"s":"0.5 mM"},{"w":305,"v":-0.42,"s":"0.5 mM"},{"w":310,"v":-0.48,"s":"0.5 mM"},{"w":315,"v":-0.58,"s":"0.5 mM"},{"w":320,"v":-0.72,"s":"0.5 mM"},{"w":325,"v":-0.88,"s":"0.5 mM"},{"w":330,"v":-1.12,"s":"0.5 mM"},{"w":335,"v":-1.5,"s":"0.5 mM"},{"w":340,"v":-2.17,"s":"0.5 mM"},{"w":345,"v":-2.8,"s":"0.5 mM"},{"w":350,"v":-3.18,"s":"0.5 mM"},{"w":353,"v":-3.26,"s":"0.5 mM"},{"w":356,"v":-3.08,"s":"0.5 mM"},{"w":360,"v":-2.28,"s":"0.5 mM"},{"w":365,"v":-0.8,"s":"0.5 mM"},{"w":370,"v":0.75,"s":"0.5 mM"},{"w":375,"v":2.05,"s":"0.5 mM"},{"w":380,"v":3.0,"s":"0.5 mM"},{"w":385,"v":3.48,"s":"0.5 mM"},{"w":390,"v":3.7,"s":"0.5 mM"},{"w":393,"v":3.78,"s":"0.5 mM"},{"w":396,"v":3.82,"s":"0.5 mM"},{"w":400,"v":3.76,"s":"0.5 mM"},{"w":405,"v":3.55,"s":"0.5 mM"},{"w":410,"v":3.31,"s":"0.5 mM"},{"w":415,"v":3.1,"s":"0.5 mM"},{"w":420,"v":2.89,"s":"0.5 mM"},{"w":430,"v":2.3,"s":"0.5 mM"},{"w":440,"v":1.65,"s":"0.5 mM"},{"w":450,"v":1.02,"s":"0.5 mM"},{"w":460,"v":0.55,"s":"0.5 mM"},{"w":470,"v":0.33,"s":"0.5 mM"},{"w":480,"v":0.22,"s":"0.5 mM"},{"w":490,"v":0.17,"s":"0.5 mM"},{"w":500,"v":0.14,"s":"0.5 mM"},{"w":510,"v":0.12,"s":"0.5 mM"},{"w":520,"v":0.1,"s":"0.5 mM"},{"w":530,"v":0.09,"s":"0.5 mM"},{"w":540,"v":0.08,"s":"0.5 mM"},{"w":550,"v":0.08,"s":"0.5 mM"},
{"w":250,"v":-0.05,"s":"0.05 mM"},{"w":260,"v":-0.1,"s":"0.05 mM"},{"w":270,"v":-0.16,"s":"0.05 mM"},{"w":280,"v":-0.22,"s":"0.05 mM"},{"w":290,"v":-0.25,"s":"0.05 mM"},{"w":300,"v":-0.22,"s":"0.05 mM"},{"w":305,"v":-0.19,"s":"0.05 mM"},{"w":310,"v":-0.24,"s":"0.05 mM"},{"w":315,"v":-0.34,"s":"0.05 mM"},{"w":320,"v":-0.48,"s":"0.05 mM"},{"w":325,"v":-0.66,"s":"0.05 mM"},{"w":330,"v":-0.95,"s":"0.05 mM"},{"w":335,"v":-1.35,"s":"0.05 mM"},{"w":340,"v":-2.05,"s":"0.05 mM"},{"w":345,"v":-2.72,"s":"0.05 mM"},{"w":350,"v":-3.1,"s":"0.05 mM"},{"w":353,"v":-3.2,"s":"0.05 mM"},{"w":356,"v":-3.05,"s":"0.05 mM"},{"w":360,"v":-2.2,"s":"0.05 mM"},{"w":365,"v":-0.7,"s":"0.05 mM"},{"w":370,"v":0.85,"s":"0.05 mM"},{"w":375,"v":2.15,"s":"0.05 mM"},{"w":380,"v":3.08,"s":"0.05 mM"},{"w":385,"v":3.55,"s":"0.05 mM"},{"w":390,"v":3.75,"s":"0.05 mM"},{"w":393,"v":3.82,"s":"0.05 mM"},{"w":396,"v":3.86,"s":"0.05 mM"},{"w":400,"v":3.78,"s":"0.05 mM"},{"w":405,"v":3.58,"s":"0.05 mM"},{"w":410,"v":3.33,"s":"0.05 mM"},{"w":415,"v":3.1,"s":"0.05 mM"},{"w":420,"v":2.88,"s":"0.05 mM"},{"w":430,"v":2.28,"s":"0.05 mM"},{"w":440,"v":1.62,"s":"0.05 mM"},{"w":450,"v":1.0,"s":"0.05 mM"},{"w":460,"v":0.52,"s":"0.05 mM"},{"w":470,"v":0.32,"s":"0.05 mM"},{"w":480,"v":0.24,"s":"0.05 mM"},{"w":490,"v":0.22,"s":"0.05 mM"},{"w":500,"v":0.2,"s":"0.05 mM"},{"w":510,"v":0.19,"s":"0.05 mM"},{"w":520,"v":0.2,"s":"0.05 mM"},{"w":530,"v":0.18,"s":"0.05 mM"},{"w":540,"v":0.17,"s":"0.05 mM"},{"w":550,"v":0.15,"s":"0.05 mM"},
{"w":250,"v":-0.12,"s":"0.1 mM"},{"w":260,"v":-0.16,"s":"0.1 mM"},{"w":270,"v":-0.22,"s":"0.1 mM"},{"w":280,"v":-0.27,"s":"0.1 mM"},{"w":290,"v":-0.3,"s":"0.1 mM"},{"w":300,"v":-0.3,"s":"0.1 mM"},{"w":305,"v":-0.27,"s":"0.1 mM"},{"w":310,"v":-0.32,"s":"0.1 mM"},{"w":315,"v":-0.4,"s":"0.1 mM"},{"w":320,"v":-0.52,"s":"0.1 mM"},{"w":325,"v":-0.68,"s":"0.1 mM"},{"w":330,"v":-0.92,"s":"0.1 mM"},{"w":335,"v":-1.28,"s":"0.1 mM"},{"w":340,"v":-1.94,"s":"0.1 mM"},{"w":345,"v":-2.62,"s":"0.1 mM"},{"w":350,"v":-3.02,"s":"0.1 mM"},{"w":353,"v":-3.12,"s":"0.1 mM"},{"w":356,"v":-2.98,"s":"0.1 mM"},{"w":360,"v":-2.05,"s":"0.1 mM"},{"w":365,"v":-0.6,"s":"0.1 mM"},{"w":370,"v":0.95,"s":"0.1 mM"},{"w":375,"v":2.38,"s":"0.1 mM"},{"w":380,"v":3.32,"s":"0.1 mM"},{"w":385,"v":3.7,"s":"0.1 mM"},{"w":390,"v":3.88,"s":"0.1 mM"},{"w":393,"v":3.93,"s":"0.1 mM"},{"w":396,"v":3.93,"s":"0.1 mM"},{"w":400,"v":3.82,"s":"0.1 mM"},{"w":405,"v":3.52,"s":"0.1 mM"},{"w":410,"v":3.22,"s":"0.1 mM"},{"w":415,"v":2.92,"s":"0.1 mM"},{"w":420,"v":2.66,"s":"0.1 mM"},{"w":425,"v":2.5,"s":"0.1 mM"},{"w":430,"v":2.15,"s":"0.1 mM"},{"w":435,"v":1.85,"s":"0.1 mM"},{"w":440,"v":1.4,"s":"0.1 mM"},{"w":445,"v":0.95,"s":"0.1 mM"},{"w":450,"v":0.72,"s":"0.1 mM"},{"w":455,"v":0.48,"s":"0.1 mM"},{"w":460,"v":0.32,"s":"0.1 mM"},{"w":465,"v":0.12,"s":"0.1 mM"},{"w":470,"v":0.22,"s":"0.1 mM"},{"w":480,"v":0.17,"s":"0.1 mM"},{"w":490,"v":0.16,"s":"0.1 mM"},{"w":500,"v":0.15,"s":"0.1 mM"},{"w":510,"v":0.18,"s":"0.1 mM"},{"w":520,"v":0.14,"s":"0.1 mM"},{"w":530,"v":0.17,"s":"0.1 mM"},{"w":540,"v":0.15,"s":"0.1 mM"},{"w":550,"v":0.13,"s":"0.1 mM"},
{"w":250,"v":0.18,"s":"0.025 mM"},{"w":260,"v":0.1,"s":"0.025 mM"},{"w":270,"v":-0.02,"s":"0.025 mM"},{"w":280,"v":-0.09,"s":"0.025 mM"},{"w":290,"v":-0.1,"s":"0.025 mM"},{"w":300,"v":0.0,"s":"0.025 mM"},{"w":305,"v":0.04,"s":"0.025 mM"},{"w":310,"v":-0.05,"s":"0.025 mM"},{"w":315,"v":-0.15,"s":"0.025 mM"},{"w":320,"v":-0.28,"s":"0.025 mM"},{"w":325,"v":-0.42,"s":"0.025 mM"},{"w":330,"v":-0.62,"s":"0.025 mM"},{"w":335,"v":-1.15,"s":"0.025 mM"},{"w":340,"v":-1.78,"s":"0.025 mM"},{"w":345,"v":-2.47,"s":"0.025 mM"},{"w":350,"v":-2.82,"s":"0.025 mM"},{"w":353,"v":-2.92,"s":"0.025 mM"},{"w":356,"v":-2.8,"s":"0.025 mM"},{"w":360,"v":-2.25,"s":"0.025 mM"},{"w":365,"v":-0.75,"s":"0.025 mM"},{"w":370,"v":1.05,"s":"0.025 mM"},{"w":375,"v":2.48,"s":"0.025 mM"},{"w":380,"v":3.55,"s":"0.025 mM"},{"w":385,"v":4.05,"s":"0.025 mM"},{"w":390,"v":4.3,"s":"0.025 mM"},{"w":393,"v":4.38,"s":"0.025 mM"},{"w":396,"v":4.35,"s":"0.025 mM"},{"w":400,"v":4.18,"s":"0.025 mM"},{"w":405,"v":3.85,"s":"0.025 mM"},{"w":410,"v":3.42,"s":"0.025 mM"},{"w":415,"v":3.02,"s":"0.025 mM"},{"w":420,"v":2.75,"s":"0.025 mM"},{"w":430,"v":2.18,"s":"0.025 mM"},{"w":440,"v":1.4,"s":"0.025 mM"},{"w":450,"v":0.85,"s":"0.025 mM"},{"w":460,"v":0.42,"s":"0.025 mM"},{"w":470,"v":0.28,"s":"0.025 mM"},{"w":480,"v":0.22,"s":"0.025 mM"},{"w":490,"v":0.24,"s":"0.025 mM"},{"w":500,"v":0.2,"s":"0.025 mM"},{"w":510,"v":0.26,"s":"0.025 mM"},{"w":520,"v":0.22,"s":"0.025 mM"},{"w":530,"v":0.25,"s":"0.025 mM"},{"w":540,"v":0.21,"s":"0.025 mM"},{"w":550,"v":0.33,"s":"0.025 mM"},
{"w":250,"v":0.45,"s":"0.005 mM"},{"w":255,"v":0.32,"s":"0.005 mM"},{"w":260,"v":0.22,"s":"0.005 mM"},{"w":265,"v":0.12,"s":"0.005 mM"},{"w":270,"v":0.18,"s":"0.005 mM"},{"w":275,"v":0.1,"s":"0.005 mM"},{"w":280,"v":0.16,"s":"0.005 mM"},{"w":285,"v":0.12,"s":"0.005 mM"},{"w":290,"v":0.24,"s":"0.005 mM"},{"w":295,"v":0.14,"s":"0.005 mM"},{"w":300,"v":0.22,"s":"0.005 mM"},{"w":303,"v":0.33,"s":"0.005 mM"},{"w":306,"v":0.26,"s":"0.005 mM"},{"w":310,"v":0.24,"s":"0.005 mM"},{"w":314,"v":0.14,"s":"0.005 mM"},{"w":318,"v":0.17,"s":"0.005 mM"},{"w":322,"v":0.05,"s":"0.005 mM"},{"w":326,"v":-0.02,"s":"0.005 mM"},{"w":329,"v":0.1,"s":"0.005 mM"},{"w":332,"v":-0.45,"s":"0.005 mM"},{"w":335,"v":-0.9,"s":"0.005 mM"},{"w":340,"v":-1.6,"s":"0.005 mM"},{"w":345,"v":-2.32,"s":"0.005 mM"},{"w":350,"v":-2.72,"s":"0.005 mM"},{"w":353,"v":-2.85,"s":"0.005 mM"},{"w":356,"v":-2.72,"s":"0.005 mM"},{"w":360,"v":-2.05,"s":"0.005 mM"},{"w":365,"v":-0.6,"s":"0.005 mM"},{"w":370,"v":1.2,"s":"0.005 mM"},{"w":375,"v":2.8,"s":"0.005 mM"},{"w":380,"v":3.8,"s":"0.005 mM"},{"w":385,"v":4.22,"s":"0.005 mM"},{"w":390,"v":4.4,"s":"0.005 mM"},{"w":393,"v":4.52,"s":"0.005 mM"},{"w":396,"v":4.38,"s":"0.005 mM"},{"w":400,"v":4.05,"s":"0.005 mM"},{"w":405,"v":3.7,"s":"0.005 mM"},{"w":410,"v":3.3,"s":"0.005 mM"},{"w":415,"v":2.95,"s":"0.005 mM"},{"w":420,"v":2.65,"s":"0.005 mM"},{"w":425,"v":2.45,"s":"0.005 mM"},{"w":430,"v":2.2,"s":"0.005 mM"},{"w":435,"v":1.75,"s":"0.005 mM"},{"w":440,"v":1.3,"s":"0.005 mM"},{"w":445,"v":0.92,"s":"0.005 mM"},{"w":450,"v":0.62,"s":"0.005 mM"},{"w":455,"v":0.42,"s":"0.005 mM"},{"w":460,"v":0.12,"s":"0.005 mM"},{"w":465,"v":0.2,"s":"0.005 mM"},{"w":470,"v":0.15,"s":"0.005 mM"},{"w":475,"v":0.22,"s":"0.005 mM"},{"w":480,"v":0.12,"s":"0.005 mM"},{"w":490,"v":0.2,"s":"0.005 mM"},{"w":500,"v":0.24,"s":"0.005 mM"},{"w":505,"v":0.3,"s":"0.005 mM"},{"w":510,"v":0.22,"s":"0.005 mM"},{"w":515,"v":0.28,"s":"0.005 mM"},{"w":520,"v":0.25,"s":"0.005 mM"},{"w":525,"v":0.35,"s":"0.005 mM"},{"w":530,"v":0.26,"s":"0.005 mM"},{"w":535,"v":0.32,"s":"0.005 mM"},{"w":540,"v":0.25,"s":"0.005 mM"},{"w":545,"v":0.3,"s":"0.005 mM"},{"w":550,"v":0.23,"s":"0.005 mM"}
]
},
"vconcat":[
{
 "width":326,"height":244,
 "title":{"text":"A","dx":-47,"dy":17,"baseline":"top","offset":0},
 "layer":[
  {"data":{"name":"Acirc"},
   "mark":{"type":"point","filled":false,"size":18,"strokeWidth":0.8,"opacity":0.8,"clip":true},
   "encoding":{
    "x":{"field":"q","type":"quantitative","scale":{"type":"log","domain":[0.005,0.4],"nice":false},
     "axis":{"orient":"bottom","values":[0.005,0.006,0.007,0.008,0.009,0.01,0.02,0.03,0.04,0.05,0.06,0.07,0.08,0.09,0.1,0.2,0.3,0.4],
      "tickSize":{"condition":{"test":"datum.value==0.01||datum.value==0.1","value":-6},"value":-3},
      "labelExpr":"datum.value==0.01?'10⁻²':datum.value==0.1?'10⁻¹':''","labelFontSize":17,"labelPadding":12,
      "title":"q (Å⁻¹)","titleFontSize":15,"titlePadding":-16,"titleX":146}},
    "y":{"field":"v","type":"quantitative","scale":{"domain":[0,9],"nice":false},
     "axis":{"orient":"left","values":[0,0.301,0.477,0.602,0.699,0.778,0.845,0.903,0.954,1,1.301,1.477,1.602,1.699,1.778,1.845,1.903,1.954,2,2.301,2.477,2.602,2.699,2.778,2.845,2.903,2.954,3,3.301,3.477,3.602,3.699,3.778,3.845,3.903,3.954,4,4.301,4.477,4.602,4.699,4.778,4.845,4.903,4.954,5,5.301,5.477,5.602,5.699,5.778,5.845,5.903,5.954,6,6.301,6.477,6.602,6.699,6.778,6.845,6.903,6.954,7,7.301,7.477,7.602,7.699,7.778,7.845,7.903,7.954,8,8.301,8.477,8.602,8.699,8.778,8.845,8.903,8.954,9],
      "tickSize":{"condition":{"test":"datum.value%1==0","value":-6},"value":-3},
      "labels":false,"title":"Intensity (a.u.)","titleFontSize":14,"titlePadding":18}},
    "color":{"field":"s","type":"nominal","scale":{"domain":["5 mM","0.5 mM","0.1 mM","0.05 mM"],"range":["#3a3a3a","#3d3dd6","#2f9a3a","#f7a040"]},
     "legend":{"orient":"none","legendX":242,"legendY":34,"title":null,"symbolSize":60,"symbolStrokeWidth":1,"labelFontSize":12,"labelOffset":14,"rowPadding":46,"padding":0,
      "encode":{"labels":{"update":{"fill":{"signal":"datum.label === '0.1 mM' ? '#101070' : '#000000'"}}}}}}
   }},
  {"data":{"name":"Afit"},
   "mark":{"type":"line","strokeWidth":1.5,"clip":true},
   "encoding":{
    "x":{"field":"q","type":"quantitative","scale":{"type":"log","domain":[0.005,0.4],"nice":false},
     "axis":{"orient":"top","values":[0.005,0.006,0.007,0.008,0.009,0.01,0.02,0.03,0.04,0.05,0.06,0.07,0.08,0.09,0.1,0.2,0.3,0.4],
      "tickSize":{"condition":{"test":"datum.value==0.01||datum.value==0.1","value":-6},"value":-3},"labels":false,"title":null}},
    "y":{"field":"v","type":"quantitative","scale":{"domain":[0,9],"nice":false},
     "axis":{"orient":"right","values":[0,0.301,0.477,0.602,0.699,0.778,0.845,0.903,0.954,1,1.301,1.477,1.602,1.699,1.778,1.845,1.903,1.954,2,2.301,2.477,2.602,2.699,2.778,2.845,2.903,2.954,3,3.301,3.477,3.602,3.699,3.778,3.845,3.903,3.954,4,4.301,4.477,4.602,4.699,4.778,4.845,4.903,4.954,5,5.301,5.477,5.602,5.699,5.778,5.845,5.903,5.954,6,6.301,6.477,6.602,6.699,6.778,6.845,6.903,6.954,7,7.301,7.477,7.602,7.699,7.778,7.845,7.903,7.954,8,8.301,8.477,8.602,8.699,8.778,8.845,8.903,8.954,9],
      "tickSize":{"condition":{"test":"datum.value%1==0","value":-6},"value":-3},"labels":false,"title":null}},
    "stroke":{"field":"f","type":"nominal","scale":{"range":["#ff0000"]},
     "legend":{"orient":"none","legendX":165,"legendY":9,"title":null,"symbolType":"stroke","symbolSize":1000,"symbolStrokeWidth":2,"labelFontSize":12,"labelOffset":6,"padding":0}},
    "detail":{"field":"s","type":"nominal"}
   }}
 ],
 "resolve":{"axis":{"x":"independent","y":"independent"}}
},
{
 "bounds":"flush",
 "spacing":56,
 "resolve":{"scale":{"color":"independent","shape":"independent"},"legend":{"color":"independent"}},
 "vconcat":[
 {
  "width":328,"height":266,
  "title":{"text":"B","dx":-47,"dy":25,"baseline":"top","offset":0},
  "encoding":{
   "x":{"field":"w","type":"quantitative","scale":{"domain":[250,550],"nice":false},
    "axis":{"values":[250,300,350,400,450,500,550],"tickSize":{"condition":{"test":"datum.value%100==0","value":6},"value":3},
     "labelExpr":"datum.value%100==0?datum.label:''","labelFontSize":17,"labelPadding":1,"title":"Wavelength (nm)","titleFontSize":15,"titlePadding":4}},
   "y":{"field":"v","type":"quantitative","scale":{"domain":[-5,5],"nice":false},
    "axis":{"values":[-5,-4,-3,-2,-1,0,1,2,3,4,5],"tickSize":{"condition":{"test":"datum.value%2==0","value":5},"value":3},
     "labelExpr":"datum.value%2==0?replace(datum.label,'−','-'):''","labelFontSize":17,"labelPadding":3,"title":"[Θ] x 10⁻⁵ (deg cm² dmol⁻¹)","titleFontSize":13,"titlePadding":4}}
  },
  "layer":[
   {"data":{"name":"B"},
    "mark":{"type":"line","clip":true},
    "encoding":{
     "color":{"field":"t","type":"nominal","scale":{"domain":["25⁰C","35⁰C","45⁰C","55⁰C","65⁰C","75⁰C","85⁰C","95⁰C"],"range":["#ff0000","#f7b36b","#6f8fb8","#66bb66","#cfa3d6","#d9a93c","#3fd4d4","#000000"]},
      "legend":{"orient":"none","legendX":210,"legendY":163,"columns":2,"title":null,"symbolType":"stroke","symbolSize":784,"symbolStrokeWidth":1.5,"labelFontSize":11,"labelOffset":2,"rowPadding":2,"columnPadding":0,"padding":0,
       "encode":{"symbols":{"update":{"strokeWidth":{"signal":"datum.value === '25⁰C' ? 3 : datum.value === '95⁰C' ? 2.5 : 1.2"}}}}}},
     "strokeWidth":{"condition":[{"test":"datum.t === '25⁰C'","value":2.5},{"test":"datum.t === '95⁰C'","value":2}],"value":1.1}
    }},
   {"data":{"name":"Barrow"},
    "mark":{"type":"rule","strokeWidth":1.5,"color":"#000"},
    "encoding":{"y2":{"field":"v2"}}},
   {"data":{"name":"Barrow"},
    "mark":{"type":"point","filled":true,"color":"#000","size":35,"opacity":1},
    "encoding":{"y":{"field":"v2","type":"quantitative","axis":{"values":[-5,-4,-3,-2,-1,0,1,2,3,4,5],"tickSize":{"condition":{"test":"datum.value%2==0","value":5},"value":3},
     "labelExpr":"datum.value%2==0?replace(datum.label,'−','-'):''","labelFontSize":17,"labelPadding":3,"title":"[Θ] x 10⁻⁵ (deg cm² dmol⁻¹)","titleFontSize":13,"titlePadding":4}},
     "shape":{"field":"dir","type":"nominal","scale":{"domain":["down","up"],"range":["triangle-down","triangle-up"]},"legend":null}}}
  ]
 },
 {
  "width":327,"height":243,
  "title":{"text":"C","dx":-47,"dy":17,"baseline":"top","offset":0},
  "data":{"name":"C"},
  "mark":{"type":"line","clip":true,"strokeWidth":1.5},
  "encoding":{
   "x":{"field":"w","type":"quantitative","scale":{"domain":[250,550],"nice":false},
    "axis":{"values":[250,300,350,400,450,500,550],"tickSize":{"condition":{"test":"datum.value%100==0","value":6},"value":3},
     "labelExpr":"datum.value%100==0?datum.label:''","labelFontSize":17,"labelPadding":0,"title":"Wavelength (nm)","titleFontSize":15,"titlePadding":3}},
   "y":{"field":"v","type":"quantitative","scale":{"domain":[-5,6],"nice":false},
    "axis":{"values":[-5,-4,-3,-2,-1,0,1,2,3,4,5,6],"tickSize":{"condition":{"test":"datum.value%2==0","value":5},"value":3},
     "labelExpr":"datum.value%2==0?replace(datum.label,'−','-'):''","labelFontSize":17,"labelPadding":3,"title":"[Θ] x 10⁻⁵ (deg cm² dmol⁻¹)","titleFontSize":13,"titlePadding":4}},
   "color":{"field":"s","type":"nominal","scale":{"domain":["5 mM","0.5 mM","0.1 mM","0.05 mM","0.025 mM","0.005 mM"],"range":["#000000","#ff1a1a","#1f3fff","#ff2bd0","#1e8c2a","#14208c"]},
    "legend":{"orient":"none","legendX":245,"legendY":-5,"title":null,"symbolType":"stroke","symbolSize":289,"symbolStrokeWidth":2,"labelFontSize":12,"labelOffset":5,"rowPadding":7,"padding":0}}
  }
 }
 ]
}
]
}
